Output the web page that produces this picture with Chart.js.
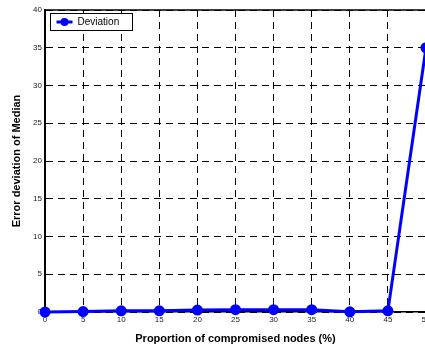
<!DOCTYPE html>
<html>
<head>
<meta charset="utf-8">
<script src="https://cdn.jsdelivr.net/npm/chart.js@4/dist/chart.umd.min.js"></script>
<style>
  html, body { margin: 0; padding: 0; background: #fff; overflow: hidden; }
  #wrap { width: 460px; height: 351px; }
</style>
</head>
<body>
<div id="wrap"><canvas id="c" width="460" height="351"></canvas></div>
<script>
// Proportion of compromised nodes (%) and the measured error deviation of the median
const proportions = [0, 5, 10, 15, 20, 25, 30, 35, 40, 45, 50];
const deviation = [0, 0.05, 0.15, 0.15, 0.25, 0.3, 0.3, 0.3, 0.02, 0.15, 35];
const yTicks = [0, 5, 10, 15, 20, 25, 30, 35, 40];
const seriesName = 'Deviation';

const BLUE = '#0000ff';

// Solid frame line along the top of the plot area, and the boxed legend in the corner
const framePlugin = {
  id: 'frame',
  afterDraw(chart) {
    const { ctx, chartArea } = chart;
    ctx.save();
    ctx.strokeStyle = '#000';
    ctx.lineWidth = 1.5;
    ctx.beginPath();
    ctx.moveTo(chartArea.left, chartArea.top);
    ctx.lineTo(chartArea.right, chartArea.top);
    ctx.stroke();

    // legend box
    const bx = chartArea.left + 5.5, by = chartArea.top + 3.5, bw = 82, bh = 17;
    ctx.fillStyle = '#fff';
    ctx.fillRect(bx, by, bw, bh);
    ctx.lineWidth = 1;
    ctx.strokeStyle = '#000';
    ctx.strokeRect(bx, by, bw, bh);
    const ly = by + bh / 2;
    ctx.strokeStyle = BLUE;
    ctx.lineWidth = 3;
    ctx.beginPath();
    ctx.moveTo(bx + 6, ly);
    ctx.lineTo(bx + 22, ly);
    ctx.stroke();
    ctx.fillStyle = BLUE;
    ctx.beginPath();
    ctx.arc(bx + 14, ly, 4, 0, Math.PI * 2);
    ctx.fill();
    ctx.fillStyle = '#000';
    ctx.font = '10px "Liberation Sans", Arial, sans-serif';
    ctx.textBaseline = 'middle';
    ctx.textAlign = 'left';
    ctx.fillText(seriesName, bx + 27, ly + 0.5);
    ctx.restore();
  }
};

new Chart(document.getElementById('c'), {
  type: 'line',
  data: {
    labels: proportions,
    datasets: [{
      label: seriesName,
      data: deviation,
      borderColor: BLUE,
      backgroundColor: BLUE,
      borderWidth: 3,
      pointRadius: 4,
      pointHoverRadius: 4,
      pointBackgroundColor: BLUE,
      pointBorderColor: BLUE,
      tension: 0,
      clip: false
    }]
  },
  options: {
    responsive: false,
    animation: false,
    devicePixelRatio: 1,
    layout: { padding: { top: 10, right: 34, left: 0, bottom: 0 } },
    plugins: { legend: { display: false }, tooltip: { enabled: false } },
    scales: {
      x: {
        type: 'linear',
        min: 0,
        max: 50,
        afterFit(s) { s.height = 39; },
        afterBuildTicks(s) { s.ticks = proportions.map(v => ({ value: v })); },
        grid: { color: '#000', lineWidth: 1, drawTicks: false },
        border: { display: true, color: '#000', width: 1.5, dash: [7, 5] },
        ticks: {
          color: '#222',
          padding: 3,
          maxRotation: 0,
          font: { size: 8, family: '"Liberation Sans", Arial, sans-serif' }
        },
        title: {
          display: true,
          text: 'Proportion of compromised nodes (%)',
          color: '#000',
          font: { size: 11, weight: 'bold', family: '"Liberation Sans", Arial, sans-serif' },
          padding: { top: 0, bottom: 5 }
        }
      },
      y: {
        min: 0,
        max: 40,
        afterFit(s) { s.width = 45; },
        afterBuildTicks(s) { s.ticks = yTicks.map(v => ({ value: v })); },
        grid: { color: '#000', lineWidth: 1, drawTicks: false },
        border: { display: true, color: '#000', width: 2, dash: [7, 5] },
        ticks: {
          color: '#222',
          padding: 3,
          font: { size: 8, family: '"Liberation Sans", Arial, sans-serif' }
        },
        title: {
          display: true,
          text: 'Error deviation of Median',
          color: '#000',
          font: { size: 11, weight: 'bold', family: '"Liberation Sans", Arial, sans-serif' },
          padding: { top: 10, bottom: 0 }
        }
      }
    }
  },
  plugins: [framePlugin]
});
</script>
</body>
</html>
